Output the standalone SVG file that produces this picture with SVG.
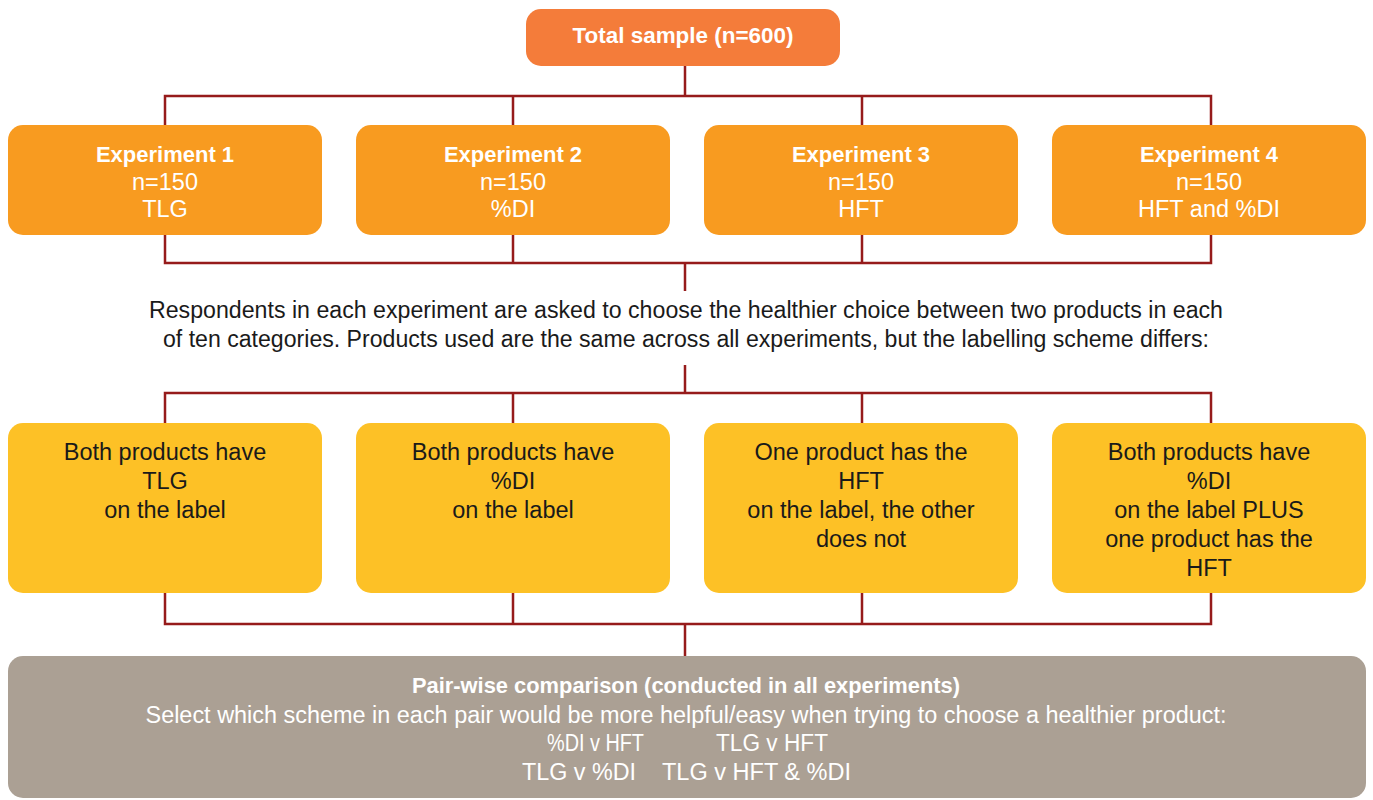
<svg xmlns="http://www.w3.org/2000/svg" width="1373" height="800" viewBox="0 0 1373 800">
<style>
.top{fill:#F47C3A}
.exp{fill:#F89B20}
.lab{fill:#FDC126}
.pair{fill:#ABA094}
.conn{stroke:#961B1B;stroke-width:2.5;fill:none}
text{font-family:"Liberation Sans",Arial,sans-serif;font-size:23.5px;text-anchor:middle}
.w{fill:#ffffff}
.d{fill:#1a1a1a}
.b{font-weight:bold;font-size:22px}
</style>
<rect width="1373" height="800" fill="#ffffff"/>
<g id="connectors" class="conn">
<path d="M685 66V96M165 125V96H1211V125M513 96V125M862 96V125"/>
<path d="M165 235V263H1211V235M513 235V263M862 235V263M685 263V291"/>
<path d="M685 365V393M165 423V393H1211V423M513 393V423M862 393V423"/>
<path d="M165 593V624H1211V593M513 593V624M862 593V624M685 624V656"/>
</g>
<g id="total">
<rect class="top" x="526" y="9" width="314" height="57" rx="15"/>
<text class="w b" x="683" y="43" textLength="221" lengthAdjust="spacingAndGlyphs">Total sample (n=600)</text>
</g>
<g id="exp1">
<rect class="exp" x="8" y="125" width="314" height="110" rx="15"/>
<text class="w b" x="165" y="162">Experiment 1</text>
<text class="w" x="165" y="190">n=150</text>
<text class="w" x="165" y="217">TLG</text>
</g>
<g id="exp2">
<rect class="exp" x="356" y="125" width="314" height="110" rx="15"/>
<text class="w b" x="513" y="162">Experiment 2</text>
<text class="w" x="513" y="190">n=150</text>
<text class="w" x="513" y="217">%DI</text>
</g>
<g id="exp3">
<rect class="exp" x="704" y="125" width="314" height="110" rx="15"/>
<text class="w b" x="861" y="162">Experiment 3</text>
<text class="w" x="861" y="190">n=150</text>
<text class="w" x="861" y="217">HFT</text>
</g>
<g id="exp4">
<rect class="exp" x="1052" y="125" width="314" height="110" rx="15"/>
<text class="w b" x="1209" y="162">Experiment 4</text>
<text class="w" x="1209" y="190">n=150</text>
<text class="w" x="1209" y="217">HFT and %DI</text>
</g>
<g id="description">
<text class="d" x="686" y="318" textLength="1074" lengthAdjust="spacingAndGlyphs">Respondents in each experiment are asked to choose the healthier choice between two products in each</text>
<text class="d" x="686" y="347" textLength="1046" lengthAdjust="spacingAndGlyphs">of ten categories. Products used are the same across all experiments, but the labelling scheme differs:</text>
</g>
<g id="label1">
<rect class="lab" x="8" y="423" width="314" height="170" rx="15"/>
<text class="d" x="165" y="460">Both products have</text>
<text class="d" x="165" y="489">TLG</text>
<text class="d" x="165" y="518">on the label</text>
</g>
<g id="label2">
<rect class="lab" x="356" y="423" width="314" height="170" rx="15"/>
<text class="d" x="513" y="460">Both products have</text>
<text class="d" x="513" y="489">%DI</text>
<text class="d" x="513" y="518">on the label</text>
</g>
<g id="label3">
<rect class="lab" x="704" y="423" width="314" height="170" rx="15"/>
<text class="d" x="861" y="460">One product has the</text>
<text class="d" x="861" y="489">HFT</text>
<text class="d" x="861" y="518">on the label, the other</text>
<text class="d" x="861" y="547">does not</text>
</g>
<g id="label4">
<rect class="lab" x="1052" y="423" width="314" height="170" rx="15"/>
<text class="d" x="1209" y="460">Both products have</text>
<text class="d" x="1209" y="489">%DI</text>
<text class="d" x="1209" y="518">on the label PLUS</text>
<text class="d" x="1209" y="547">one product has the</text>
<text class="d" x="1209" y="576">HFT</text>
</g>
<g id="pairwise">
<rect class="pair" x="8" y="656" width="1358" height="142" rx="15"/>
<text class="w b" x="686" y="693" textLength="548" lengthAdjust="spacingAndGlyphs">Pair-wise comparison (conducted in all experiments)</text>
<text class="w" x="686" y="723" textLength="1081" lengthAdjust="spacingAndGlyphs">Select which scheme in each pair would be more helpful/easy when trying to choose a healthier product:</text>
<text class="w" x="595.5" y="751" textLength="97" lengthAdjust="spacingAndGlyphs">%DI v HFT</text>
<text class="w" x="772" y="751" textLength="112" lengthAdjust="spacingAndGlyphs">TLG v HFT</text>
<text class="w" x="579" y="780" textLength="114" lengthAdjust="spacingAndGlyphs">TLG v %DI</text>
<text class="w" x="756.5" y="780" textLength="189" lengthAdjust="spacingAndGlyphs">TLG v HFT &amp; %DI</text>
</g>
</svg>
